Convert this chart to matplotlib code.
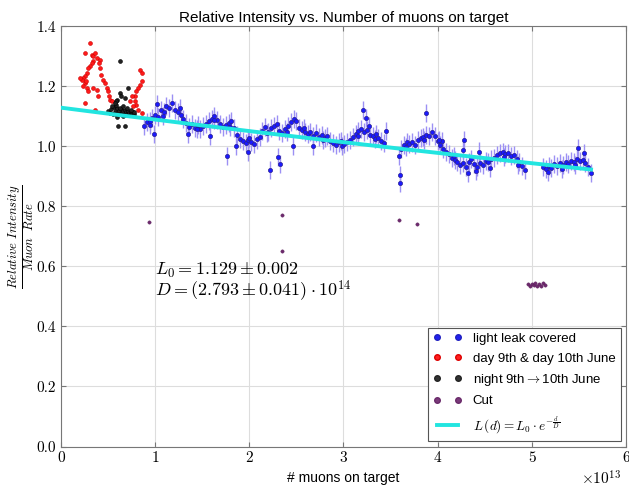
import numpy as np
import matplotlib
matplotlib.use('Agg')
import matplotlib.pyplot as plt
from matplotlib.lines import Line2D

plt.rcParams['mathtext.fontset'] = 'cm'

# muons on target in units of 1e13
blue_x = [0.88, 0.91, 0.94, 0.97, 1.00, 1.03, 1.06, 1.09, 1.12, 1.15, 1.18, 1.21, 1.24, 1.27, 1.30,
          1.33, 1.36, 1.39, 1.42, 1.45, 1.48, 1.51, 1.54, 1.57, 1.60, 1.63, 1.66, 1.69, 1.72, 1.75,
          1.78, 1.81, 1.84, 1.87, 1.90, 1.93, 1.96, 1.99, 2.02, 2.05, 2.08, 2.11, 2.14, 2.17, 2.20,
          2.23, 2.26, 2.29, 2.32, 2.35, 2.38, 2.41, 2.44, 2.47, 2.50, 2.53, 2.56, 2.59, 2.62, 2.65,
          2.68, 2.71, 2.74, 2.77, 2.80, 2.83, 2.86, 2.89, 2.92, 2.95, 2.98, 3.01, 3.04, 3.07, 3.10,
          3.13, 3.16, 3.19, 3.22, 3.25, 3.28, 3.31, 3.34, 3.37, 3.40, 3.43,
          3.61, 3.64, 3.67, 3.70, 3.73, 3.76, 3.79, 3.82, 3.85, 3.88, 3.91, 3.94, 3.97, 4.00, 4.03,
          4.06, 4.09, 4.12, 4.15, 4.18, 4.21, 4.24, 4.27, 4.30, 4.33, 4.36, 4.39, 4.42, 4.45, 4.48,
          4.51, 4.54, 4.57, 4.60, 4.63, 4.66, 4.69, 4.72, 4.75, 4.78, 4.81, 4.84, 4.87, 4.90, 4.93,
          5.12, 5.15, 5.18, 5.21, 5.24, 5.27, 5.30, 5.33, 5.36, 5.39, 5.42, 5.45, 5.48, 5.51, 5.54,
          5.57, 5.60, 5.63,
          0.99, 1.02, 1.35, 1.58, 1.76, 1.86, 1.99, 2.22, 2.31, 2.33, 2.46, 2.68, 3.21, 3.24, 3.27,
          3.45, 3.59, 3.60, 3.60, 3.88, 4.05, 4.28, 4.27, 4.44, 5.49, 5.56,
          0.95, 1.08, 1.26, 1.44, 1.62, 1.80, 2.00, 2.19, 2.40, 2.58, 2.78, 2.97, 3.15, 3.35,
          3.66, 3.86, 4.02, 4.17, 4.32, 4.41, 4.56, 4.71, 4.85, 5.17, 5.32, 5.46]
blue_y = [1.068, 1.082, 1.071, 1.093, 1.104, 1.098, 1.121, 1.115, 1.134, 1.127, 1.146, 1.122, 1.113, 1.104, 1.091,
          1.079, 1.066, 1.075, 1.061, 1.072, 1.058, 1.069, 1.074, 1.083, 1.091, 1.102, 1.088, 1.076, 1.064, 1.071,
          1.079, 1.086, 1.062, 1.038, 1.026, 1.019, 1.012, 1.021, 1.014, 1.009, 1.023, 1.031, 1.052, 1.063, 1.049,
          1.061, 1.068, 1.074, 1.052, 1.046, 1.059, 1.067, 1.081, 1.092, 1.086, 1.062, 1.054, 1.048, 1.041, 1.047,
          1.036, 1.043, 1.031, 1.038, 1.027, 1.034, 1.019, 1.012, 1.006, 1.013, 1.001, 1.008, 1.016, 1.022, 1.031,
          1.042, 1.051, 1.058, 1.049, 1.055, 1.038, 1.033, 1.026, 1.029, 1.018, 1.012,
          0.991, 1.004, 1.016, 1.009, 1.013, 1.006, 1.021, 1.027, 1.032, 1.038, 1.036, 1.047, 1.034, 1.018, 1.004,
          0.993, 0.981, 0.976, 0.962, 0.954, 0.948, 0.937, 0.944, 0.931, 0.948, 0.957, 0.941, 0.933, 0.946, 0.938,
          0.952, 0.947, 0.958, 0.963, 0.971, 0.977, 0.982, 0.974, 0.979, 0.968, 0.971, 0.958, 0.949, 0.936, 0.921,
          0.931, 0.924, 0.936, 0.929, 0.941, 0.934, 0.946, 0.939, 0.948, 0.942, 0.953, 0.947, 0.958, 0.951, 0.955,
          0.944, 0.931, 0.912,
          1.040, 1.140, 1.040, 1.033, 0.969, 1.000, 0.980, 0.922, 0.965, 0.943, 1.000, 1.000, 1.122, 1.094, 1.067,
          1.050, 0.967, 0.906, 0.878, 1.111, 1.017, 1.022, 0.989, 0.983, 0.994, 0.978,
          1.085, 1.102, 1.128, 1.058, 1.088, 1.064, 1.028, 1.044, 1.048, 1.062, 1.022, 1.018, 1.036, 1.041,
          0.998, 1.021, 1.022, 0.968, 0.912, 0.918, 0.928, 0.966, 0.938, 0.915, 0.925, 0.937]

red_x = [0.308, 0.255, 0.325, 0.343, 0.360, 0.378, 0.343, 0.325, 0.308, 0.290, 0.272, 0.255, 0.237, 0.220,
         0.255, 0.237, 0.272, 0.290, 0.255, 0.414, 0.406, 0.414, 0.430, 0.449, 0.467, 0.485, 0.500, 0.510,
         0.343, 0.378, 0.396, 0.360, 0.838, 0.855, 0.855, 0.838, 0.820, 0.800, 0.785, 0.785, 0.800, 0.820,
         0.855, 0.750, 0.730, 0.767, 0.520, 0.540, 0.200, 0.265]
red_y = [1.345, 1.311, 1.306, 1.300, 1.311, 1.295, 1.283, 1.278, 1.267, 1.261, 1.245, 1.233, 1.228, 1.222,
         1.211, 1.200, 1.195, 1.183, 1.145, 1.289, 1.278, 1.261, 1.239, 1.222, 1.211, 1.195, 1.183, 1.167,
         1.195, 1.189, 1.167, 1.122, 1.256, 1.245, 1.217, 1.206, 1.195, 1.183, 1.167, 1.150, 1.139, 1.122,
         1.111, 1.167, 1.150, 1.133, 1.156, 1.150, 1.228, 1.219]

black_x = [0.50, 0.52, 0.53, 0.55, 0.56, 0.57, 0.58, 0.59, 0.60, 0.61, 0.62, 0.63, 0.64, 0.65, 0.66,
           0.67, 0.68, 0.69, 0.70, 0.71, 0.72, 0.73, 0.74, 0.75, 0.76, 0.77, 0.78, 0.54, 0.58, 0.63,
           0.66, 0.70, 0.74, 0.60, 0.66, 0.714, 0.626, 0.64, 0.60, 0.58, 0.57, 0.68, 0.608, 0.68, 0.626]
black_y = [1.118, 1.112, 1.124, 1.108, 1.131, 1.116, 1.121, 1.104, 1.127, 1.113, 1.119, 1.108, 1.123, 1.111,
           1.117, 1.105, 1.121, 1.114, 1.109, 1.118, 1.112, 1.106, 1.116, 1.110, 1.113, 1.108, 1.115, 1.133,
           1.138, 1.129, 1.134, 1.127, 1.122, 1.098, 1.101, 1.195, 1.178, 1.167, 1.156, 1.150, 1.144, 1.161,
           1.067, 1.067, 1.283]

cut_x = [0.936, 2.35, 2.35, 3.59, 3.78, 4.96, 4.98, 5.00, 5.02, 5.04, 5.06, 5.08, 5.10, 5.12, 5.14]
cut_y = [0.747, 0.772, 0.650, 0.756, 0.742, 0.540, 0.535, 0.543, 0.538, 0.545, 0.536, 0.541, 0.534, 0.546, 0.539]

L0 = 1.129
D = 2.793e14

fig = plt.figure(figsize=(6.29, 4.88), dpi=100)
ax = fig.add_axes([0.097, 0.085, 0.898, 0.861])

scale = 1e13
ax.errorbar(np.array(blue_x) * scale, blue_y, yerr=0.03, fmt='o', ms=3.0, mfc='#1a1aff', mec='#2a1f8f',
            mew=0.5, ecolor='#9c90f4', elinewidth=1.0, capsize=0, zorder=3)
ax.plot(np.array(red_x) * scale, red_y, 'o', ms=2.8, color='#ff1a1a', mec='#cc0000', mew=0.4, zorder=3)
ax.plot(np.array(black_x) * scale, black_y, 'o', ms=2.8, color='#222222', mec='#000000', mew=0.4, zorder=3)
ax.plot(np.array(cut_x) * scale, cut_y, 'o', ms=2.4, color='#6e2a6e', mec='#5a1f5a', mew=0.3, zorder=3)

d = np.linspace(0, 5.63e13, 200)
ax.plot(d, L0 * np.exp(-d / D), color='#22e5e0', lw=2.8, zorder=4)

ax.set_xlim(0, 6e13)
ax.set_ylim(0, 1.4)
ax.set_xticks(np.arange(0, 7) * scale)
ax.set_xticklabels([str(i) for i in range(7)])
ax.set_yticks(np.arange(0, 1.41, 0.2))
ax.set_yticklabels(['%.1f' % v for v in np.arange(0, 1.41, 0.2)])
ax.grid(True, color='#dddddd', lw=0.8, zorder=0)
ax.set_axisbelow(True)
for s in ax.spines.values():
    s.set_color('#777777')
ax.tick_params(direction='in', top=True, right=True, colors='#777777', labelcolor='black', labelsize=11)
for lab in ax.get_xticklabels() + ax.get_yticklabels():
    lab.set_fontfamily('cmr10')
ax.text(0.992, -0.055, r'$\times 10^{13}$', transform=ax.transAxes, ha='right', va='top', fontsize=11)

ax.set_title('Relative Intensity vs. Number of muons on target', family='Liberation Sans', fontsize=11, pad=3)
ax.set_xlabel('# muons on target', family='Liberation Sans', fontsize=10, labelpad=4)
ax.set_ylabel(r'$\frac{Relative\ Intensity}{Muon\ \ Rate}$', fontsize=13)
ax.yaxis.set_label_coords(-0.045, 0.5)

ax.text(1.0e13, 0.572, r'$L_0 = 1.129 \pm 0.002$', fontsize=13, va='baseline')
ax.text(1.0e13, 0.500, r'$D = (2.793 \pm 0.041)\cdot 10^{14}$', fontsize=13, va='baseline')

handles = [
    Line2D([], [], ls='none', marker='o', ms=4, color='#2020f0', mec='#2020c0'),
    Line2D([], [], ls='none', marker='o', ms=4, color='#ff2020', mec='#dd0000'),
    Line2D([], [], ls='none', marker='o', ms=4, color='#333333', mec='#222222'),
    Line2D([], [], ls='none', marker='o', ms=4, color='#7a3a7a', mec='#6a2a6a'),
    Line2D([], [], color='#22e5e0', lw=2.8),
]
labels = ['light leak covered', 'day 9th & day 10th June', 'night 9th$\\rightarrow$10th June', 'Cut',
          r'$L\,(d) = L_0 \cdot e^{-\frac{d}{D}}$']
leg = ax.legend(handles, labels, loc='lower right', numpoints=2, prop={'family': 'Liberation Sans', 'size': 9.5},
                fancybox=False, edgecolor='#555555', framealpha=1, labelspacing=0.55, borderaxespad=0.4,
                handlelength=2.2)
leg.get_frame().set_linewidth(0.8)

fig.savefig('out.png', dpi=100)
